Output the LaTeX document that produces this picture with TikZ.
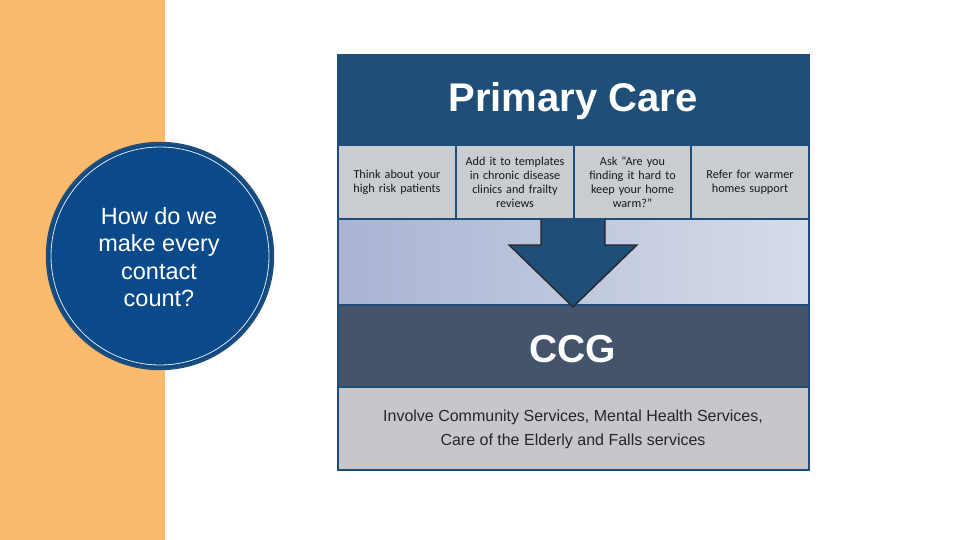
\documentclass[tikz,border=0pt]{standalone}
\usepackage{fontspec}
\setmainfont{Liberation Sans}
\newfontfamily\cellfont{Carlito}
\begin{document}
\begin{tikzpicture}[x=1pt,y=-1pt,
  bandline/.style={draw=navyedge,line width=1.6pt},
  cellbox/.style={bandline,fill=cellgray},
  celltext/.style={font=\cellfont\fontsize{12.2}{14}\selectfont,text=black!90,align=center,text width=110pt}]
\definecolor{orangestrip}{HTML}{FBBA6B}
\definecolor{navyedge}{HTML}{1E4E79}
\definecolor{titleblue}{HTML}{1F4E79}
\definecolor{ccgband}{HTML}{44546A}
\definecolor{cellgray}{HTML}{C9CCD1}
\definecolor{bottomgray}{HTML}{C5C7CB}
\definecolor{gradleft}{HTML}{A9B3D3}
\definecolor{gradright}{HTML}{D6DCE9}
\definecolor{circblue}{HTML}{0B4A8A}
\definecolor{arrowblue}{HTML}{1F4E79}
\useasboundingbox (0,0) rectangle (960,540);
\fill[white] (0,0) rectangle (960,540);
\fill[orangestrip] (0,0) rectangle (165,540);
% title band
\fill[titleblue] (338,55) rectangle (809,145);
\node[font=\bfseries\fontsize{40}{44}\selectfont,text=white] (titletxt) at (573,101) {Primary Care};
% gradient band
\shade[left color=gradleft,right color=gradright] (338,219) rectangle (809,305);
% cells
\draw[cellbox] (338,145) rectangle (456,219);
\draw[cellbox] (456,145) rectangle (574,219);
\draw[cellbox] (574,145) rectangle (691,219);
\draw[cellbox] (691,145) rectangle (809,219);
\node[celltext] (c1) at (397,182) {Think about your\\high risk patients};
\node[celltext] (c2) at (515,182) {Add it to templates\\in chronic disease\\clinics and frailty\\reviews};
\node[celltext] (c3) at (632.5,182) {Ask “Are you\\finding it hard to\\keep your home\\warm?”};
\node[celltext] (c4) at (750,182) {Refer for warmer\\homes support};
% CCG band
\fill[ccgband] (338,305) rectangle (809,387);
\node[font=\bfseries\fontsize{39}{42}\selectfont,text=white] (ccg) at (573,349) {CCG};
% bottom band
\fill[bottomgray] (338,387) rectangle (809,470);
\node[font=\fontsize{16}{24}\selectfont,text=black!85,align=center] (bottom) at (573,429) {Involve Community Services, Mental Health Services,\\Care of the Elderly and Falls services};
% band borders
\draw[bandline] (338,55) rectangle (809,470);
\draw[bandline] (338,145) -- (809,145);
\draw[bandline] (338,219) -- (809,219);
\draw[bandline] (338,305) -- (809,305);
\draw[bandline] (338,387) -- (809,387);
% arrow
\draw[fill=arrowblue,draw=black!85,line width=1.3pt,line join=miter]
  (541,219) -- (541,245) -- (509,245) -- (573,307) -- (637,245) -- (605,245) -- (605,219);
% circle
\node[circle,fill=circblue,draw=navyedge,line width=2.5pt,minimum size=226pt,inner sep=0pt] (circ) at (160,256) {};
\draw[white!80!gray,line width=0.8pt] (circ.center) circle (109);
\node[font=\fontsize{23.5}{27.5}\selectfont,text=white,align=center] (q) at (159,257) {How do we\\make every\\contact\\count?};
\end{tikzpicture}
\end{document}
